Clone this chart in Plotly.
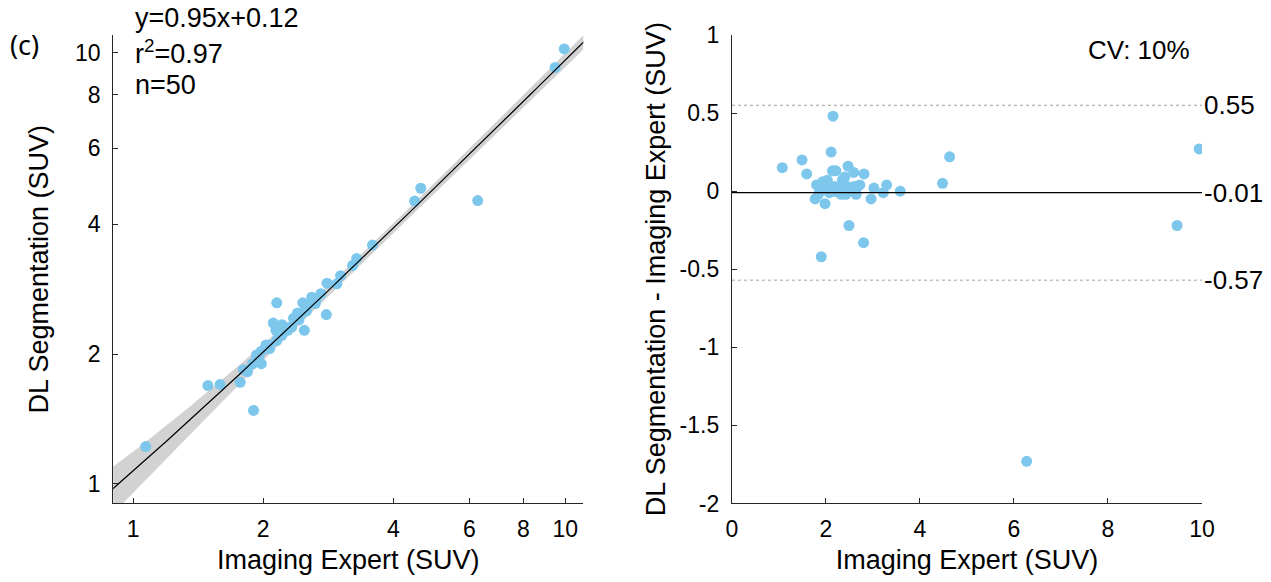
import numpy as np
import plotly.graph_objects as go

# ---------------- data ----------------
expert = [2.15, 4.63, 1.07, 1.49, 2.11, 1.59, 2.14, 2.21, 2.47, 2.59,
          2.81, 2.40, 4.48, 3.29, 3.02, 3.58, 3.22, 2.96, 1.77, 1.98,
          2.49, 2.80, 1.90, 1.80, 1.93, 2.03, 2.07, 1.89, 2.28, 2.37,
          2.46, 2.60, 2.65, 2.28, 2.42, 2.64, 2.07, 2.15, 1.98, 2.21,
          1.84, 2.35, 2.18, 2.52, 2.33, 1.95, 2.72, 6.27, 9.47, 9.94]
diff = [0.48, 0.22, 0.15, 0.20, 0.25, 0.11, 0.13, 0.13, 0.16, 0.12,
        0.11, 0.09, 0.05, 0.04, 0.02, 0.00, -0.01, -0.05, -0.05, -0.08,
        -0.22, -0.33, -0.42, 0.04, 0.06, 0.07, 0.03, 0.01, 0.02, 0.05,
        0.03, 0.03, 0.02, -0.01, -0.02, -0.02, -0.01, 0.00, 0.05, 0.00,
        -0.02, 0.07, 0.03, 0.00, -0.02, 0.02, 0.04, -1.73, -0.22, 0.27]
fit_slope = 0.95
fit_intercept = 0.12
t_crit = 2.0106
loa_values = [0.55, -0.01, -0.57]
loa_labels = ["0.55", "-0.01", "-0.57"]
log_ticks = [1, 2, 4, 6, 8, 10]
log_ticktext = ["1", "2", "4", "6", "8", "10"]
ba_xticks = [0, 2, 4, 6, 8, 10]
ba_yticks = [1, 0.5, 0, -0.5, -1, -1.5, -2]
ba_yticktext = ["1", "0.5", "0", "-0.5", "-1", "-1.5", "-2"]

# ---------------- derived ----------------
x = np.array(expert)
d = np.array(diff)
dl = x + d
n = len(x)
resid = dl - (fit_slope * x + fit_intercept)
s = np.sqrt(np.sum(resid ** 2) / (n - 2))
xbar = x.mean()
sxx = np.sum((x - xbar) ** 2)
grid = np.logspace(np.log10(0.85), np.log10(11.5), 200)
fit = fit_slope * grid + fit_intercept
h = t_crit * s * np.sqrt(1.0 / n + (grid - xbar) ** 2 / sxx)
upper = fit + h
lower = np.clip(fit - h, 0.5, None)

FONT = "Liberation Sans, Arial, sans-serif"
BLUE = "#7DC7EC"
AXC = "#262626"
TICK_FS = 23
TITLE_FS = 27
ANN_FS = 26

fig = go.Figure()

# left panel: confidence band, points, fit line
fig.add_trace(go.Scatter(
    x=np.concatenate([grid, grid[::-1]]), y=np.concatenate([upper, lower[::-1]]),
    fill="toself", fillcolor="#D2D2D2", line=dict(width=0), mode="lines",
    hoverinfo="skip", showlegend=False, xaxis="x", yaxis="y"))
fig.add_trace(go.Scatter(
    x=x, y=dl, mode="markers", marker=dict(color=BLUE, size=11),
    showlegend=False, xaxis="x", yaxis="y"))
fig.add_trace(go.Scatter(
    x=grid, y=fit, mode="lines", line=dict(color="black", width=1.2),
    showlegend=False, xaxis="x", yaxis="y"))

# right panel: Bland-Altman
fig.add_trace(go.Scatter(
    x=x, y=d, mode="markers", marker=dict(color=BLUE, size=11),
    showlegend=False, xaxis="x2", yaxis="y2"))

for v, lab in zip(loa_values, loa_labels):
    is_mean = lab == "-0.01"
    fig.add_shape(type="line", xref="x2", yref="y2", x0=0, x1=10, y0=v, y1=v,
                  line=dict(color="black" if is_mean else "#A0A0A0",
                            width=1.3 if is_mean else 1,
                            dash="solid" if is_mean else "dot"))
    fig.add_annotation(xref="x2", yref="y2", x=10, y=v, text=lab, showarrow=False,
                       xanchor="left", yanchor="middle", xshift=0,
                       font=dict(family=FONT, size=ANN_FS, color="black"))

axis_common = dict(showgrid=False, zeroline=False, showline=True, linecolor=AXC,
                   linewidth=1.3, ticks="inside", ticklen=5, tickcolor=AXC,
                   tickfont=dict(family=FONT, size=TICK_FS, color="black"),
                   mirror=False, automargin=False)
title_font = dict(family=FONT, size=TITLE_FS, color="black")

fig.update_layout(
    width=1271, height=582, margin=dict(l=0, r=0, t=0, b=0, autoexpand=False),
    paper_bgcolor="white", plot_bgcolor="white",
    xaxis=dict(domain=[0.0891, 0.4589], type="log",
               range=[np.log10(0.9), np.log10(11)],
               tickvals=log_ticks, ticktext=log_ticktext, anchor="y",
               ticklabelstandoff=5,
               title=dict(text="Imaging Expert (SUV)", standoff=8, font=title_font),
               **axis_common),
    yaxis=dict(domain=[0.1349, 0.9399], type="log",
               range=[np.log10(0.9), np.log10(11)],
               tickvals=log_ticks, ticktext=log_ticktext, anchor="x",
               ticklabelstandoff=7,
               title=dict(text="DL Segmentation (SUV)", standoff=18, font=title_font),
               **axis_common),
    xaxis2=dict(domain=[0.5759, 0.9457], range=[0, 10],
                tickvals=ba_xticks, anchor="y2", ticklabelstandoff=5,
                title=dict(text="Imaging Expert (SUV)", standoff=8, font=title_font),
                **axis_common),
    yaxis2=dict(domain=[0.1349, 0.9399], range=[-2, 1],
                tickvals=ba_yticks, ticktext=ba_yticktext, anchor="x2",
                ticklabelstandoff=7,
                title=dict(text="DL Segmentation - Imaging Expert (SUV)", standoff=6,
                           font=title_font),
                **axis_common),
)

ann_font = dict(family=FONT, size=ANN_FS, color="black")
eq_font = dict(family=FONT, size=27, color="black")
fig.add_annotation(xref="paper", yref="paper", x=133 / 1271, y=0.969,
                   text="y=0.95x+0.12", showarrow=False, xanchor="left",
                   yanchor="middle", font=eq_font)
fig.add_annotation(xref="paper", yref="paper", x=133 / 1271, y=0.9107,
                   text="r<sup>2</sup>=0.97", showarrow=False, xanchor="left",
                   yanchor="middle", font=eq_font)
fig.add_annotation(xref="paper", yref="paper", x=133 / 1271, y=0.854,
                   text="n=50", showarrow=False, xanchor="left",
                   yanchor="middle", font=eq_font)
fig.add_annotation(xref="paper", yref="paper", x=8 / 1271, y=0.9227,
                   text="(c)", showarrow=False, xanchor="left",
                   yanchor="middle",
                   font=dict(family="Noto Sans, sans-serif", size=27, color="black"))
fig.add_annotation(xref="paper", yref="paper", x=1192 / 1271, y=0.914,
                   text="CV: 10%", showarrow=False, xanchor="right",
                   yanchor="middle", font=ann_font)

fig.write_html("out.html")
